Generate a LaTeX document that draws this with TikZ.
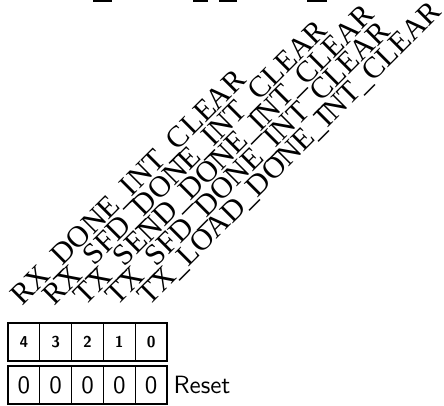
\documentclass[tikz,border=0pt]{standalone}
\usepackage{fontspec}
\newfontfamily\lblfont{Liberation Serif}
\begin{document}
\begin{tikzpicture}[x=0.4pt,y=0.4pt,
  cell/.style={draw, line width=0.45pt, minimum width=12.72pt, minimum height=15.2pt, inner sep=0pt, outer sep=0pt},
  bitnum/.style={font=\sffamily\bfseries\fontsize{6.3}{7}\selectfont},
  val/.style={font=\sffamily\fontsize{10}{12}\selectfont},
  lbl/.style={anchor=base west, rotate=45, inner sep=0pt, font=\lblfont\fontsize{12}{14}\selectfont},
  bar/.style={fill=black}]
\useasboundingbox (0,0) rectangle (444,405);
% bit number row
\node[cell, bitnum] (b4) at (23.9,63) {4};
\node[cell, bitnum] (b3) at (55.7,63) {3};
\node[cell, bitnum] (b2) at (87.5,63) {2};
\node[cell, bitnum] (b1) at (119.3,63) {1};
\node[cell, bitnum] (b0) at (151.1,63) {0};
% reset value row
\node[cell, val] (v4) at (23.9,20) {0};
\node[cell, val] (v3) at (55.7,20) {0};
\node[cell, val] (v2) at (87.5,20) {0};
\node[cell, val] (v1) at (119.3,20) {0};
\node[cell, val] (v0) at (151.1,20) {0};
\node[val, anchor=west, inner sep=0pt] (reset) at (173,20) {Reset};
% rotated field names
\node[lbl] (f4) at (22,98) {RX\_DONE\_INT\_CLEAR};
\node[lbl] (f3) at (53.8,98) {RX\_SFD\_DONE\_INT\_CLEAR};
\node[lbl] (f2) at (85.6,98) {TX\_SEND\_DONE\_INT\_CLEAR};
\node[lbl] (f1) at (117.4,98) {TX\_SFD\_DONE\_INT\_CLEAR};
\node[lbl] (f0) at (149.2,98) {TX\_LOAD\_DONE\_INT\_CLEAR};
% stray bars at the top edge
\fill[bar] (93,403) rectangle (112,405);
\fill[bar] (193,403) rectangle (208,405);
\fill[bar] (219,403) rectangle (237,405);
\fill[bar] (307,403) rectangle (327,405);
\end{tikzpicture}
\end{document}
